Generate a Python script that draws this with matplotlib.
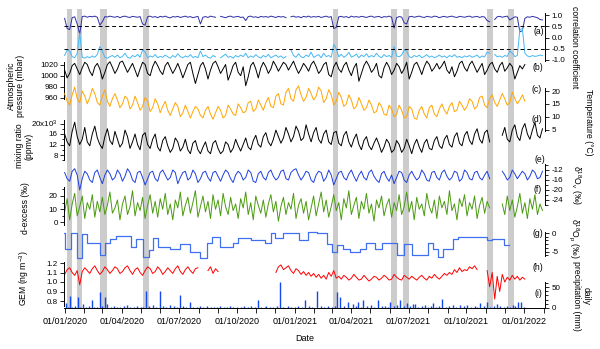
import numpy as np
import matplotlib.pyplot as plt
import matplotlib.dates as mdates
from matplotlib.ticker import FormatStrFormatter, FixedLocator

plt.rcParams['font.family'] = ['Liberation Sans', 'DejaVu Sans']
plt.rcParams['font.size'] = 6
plt.rcParams['axes.unicode_minus'] = False
plt.rcParams['mathtext.fontset'] = 'custom'
plt.rcParams['mathtext.rm'] = 'Liberation Sans'
plt.rcParams['mathtext.it'] = 'Liberation Sans:italic'
plt.rcParams['mathtext.default'] = 'rm'

nan = np.nan

# time base: one value every 4 days from 01/01/2020
t0 = np.datetime64('2020-01-01')
step_days = 4

# (a) correlation coefficients
corr_pos = [0.85, 0.40, 0.35, 0.88, 0.92, 0.60, 0.15, 0.93, 0.95, 0.90,
            0.94, 0.92, 0.95, 0.90, 0.55, 0.70, 0.93, 0.91, 0.95, 0.92,
            0.90, 0.94, 0.88, 0.93, 0.95, 0.91, 0.89, 0.94, 0.92, 0.90,
            0.93, 0.60, 0.55, 0.92, 0.95, 0.90, 0.93, 0.88, 0.94, 0.91,
            0.95, 0.90, 0.87, 0.93, 0.91, 0.94, 0.89, 0.92, 0.95, 0.90,
            0.93, 0.88, 0.91, 0.94, 0.60, 0.90, 0.93, 0.89, 0.95, 0.92,
            0.90, nan, 0.94, 0.91, 0.88, 0.93, 0.95, 0.90, 0.92, 0.94,
            0.89, 0.91, 0.75, 0.93, 0.95, 0.90, 0.92, 0.88, 0.94, 0.91,
            0.93, 0.90, 0.95, 0.92, 0.89, 0.94, 0.91, 0.93, 0.88, nan,
            0.92, 0.95, 0.90, 0.93, 0.88, 0.94, 0.91, 0.95, 0.90, 0.93,
            0.91, 0.94, 0.89, 0.92, 0.95, 0.90, 0.93, 0.40, 0.45, 0.92,
            0.94, 0.90, 0.93, 0.88, 0.95, 0.91, 0.93, 0.90, 0.94, 0.92,
            0.89, 0.93, 0.95, 0.90, 0.92, 0.94, 0.88, 0.93, 0.91, 0.95,
            0.90, 0.42, 0.88, 0.93, 0.91, 0.65, 0.60, 0.92, 0.94, 0.90,
            0.93, 0.95, 0.91, 0.89, 0.94, 0.92, 0.90, 0.95, 0.93, 0.88,
            0.92, 0.94, 0.90, 0.93, 0.95, 0.91, 0.89, 0.94, 0.92, 0.90,
            0.93, 0.95, 0.90, 0.92, 0.94, 0.89, 0.93, 0.91, 0.75, 0.70,
            nan, 0.80, 0.92, 0.94, 0.90, 0.93, 0.95, 0.78, 0.85, 0.92,
            0.90, 0.25, 0.30, 0.85, 0.92, 0.90, 0.94, 0.91, 0.88, 0.80,
            0.78]
corr_neg = [-0.80, -0.55, -0.60, -0.85, -0.90, -0.70, 0.20, -0.88, -0.92, -0.85,
            -0.90, -0.82, -0.88, -0.75, -0.40, -0.60, -0.88, -0.92, -0.85, -0.80,
            -0.88, -0.78, -0.90, -0.84, -0.70, -0.88, -0.92, -0.80, -0.86, -0.75,
            -0.88, -0.55, -0.65, -0.90, -0.82, -0.87, -0.76, -0.90, -0.84, -0.88,
            -0.78, -0.86, -0.92, -0.80, -0.88, -0.72, -0.85, -0.90, -0.82, -0.87,
            -0.76, -0.89, -0.84, -0.90, -0.60, -0.85, -0.78, -0.88, -0.92, -0.80,
            -0.86, nan, -0.90, -0.82, -0.74, -0.88, -0.84, -0.92, -0.80, -0.87,
            -0.78, -0.85, -0.70, -0.90, -0.82, -0.88, -0.76, -0.86, -0.91, -0.80,
            -0.87, -0.75, -0.90, -0.84, -0.78, -0.88, -0.82, -0.92, -0.85, nan,
            -0.55, -0.80, -0.88, -0.72, -0.86, -0.90, -0.78, -0.85, -0.65, -0.88,
            -0.82, -0.76, -0.90, -0.70, -0.85, -0.80, -0.88, -0.30, -0.50, -0.86,
            -0.75, -0.88, -0.80, -0.66, -0.87, -0.82, -0.74, -0.90, -0.78, -0.85,
            -0.72, -0.88, -0.80, -0.86, -0.70, -0.84, -0.90, -0.76, -0.85, -0.80,
            -0.88, -0.40, -0.82, -0.86, -0.78, -0.55, -0.60, -0.85, -0.90, -0.80,
            -0.86, -0.78, -0.90, -0.84, -0.76, -0.88, -0.82, -0.90, -0.85, -0.78,
            -0.87, -0.82, -0.90, -0.80, -0.86, -0.76, -0.88, -0.84, -0.90, -0.82,
            -0.86, -0.80, -0.88, -0.84, -0.78, -0.90, -0.82, -0.86, -0.65, -0.70,
            nan, -0.75, -0.86, -0.82, -0.88, -0.80, -0.84, -0.60, -0.70, -0.85,
            -0.80, 0.35, 0.40, -0.70, -0.82, -0.86, -0.80, -0.84, -0.82, -0.78,
            -0.80]

# (b) atmospheric pressure (mbar)
pressure = [1010, 996, 1004, 1018, 1022, 1012, 1002, 1014, 1024, 1020,
            1008, 1000, 1016, 1022, 1012, 994, 1006, 1020, 1025, 1015,
            1004, 1012, 1024, 1026, 1016, 1006, 1014, 1022, 1010, 998,
            1012, 1024, 1020, 1004, 1000, 1016, 1026, 1018, 1008, 1002,
            1018, 1024, 1014, 1004, 1012, 1022, 1010, 996, 1008, 1020,
            1024, 1004, 986, 1002, 1018, 1024, 1012, 994, 1010, 1022,
            1026, 1016, 1004, 1012, 1020, 992, 1004, 1018, 1024, 1006,
            1000, 1016, 982, 998, 1018, 1024, 1012, 996, 1014, 1024,
            1016, 1004, 1012, 1026, 1018, 1008, 1016, 1024, 1020, 1010,
            1018, 1026, 1014, 1004, 1012, 1022, 1016, 1008, 1020, 1026,
            1016, 1004, 1010, 1020, 1024, 1002, 998, 1016, 1024, 1012,
            1006, 1018, 1024, 1010, 1000, 1014, 1022, 990, 1004, 1018,
            1026, 1018, 1006, 1012, 1022, 1000, 996, 1014, 1024, 1016,
            1002, 1010, 1022, 1016, 1004, 1012, 1024, 994, 1006, 1020,
            1024, 1014, 1002, 1016, 1026, 1020, 1008, 1014, 1022, 1012,
            1018, 1026, 1010, 1004, 1016, 998, 1008, 1022, 1026, 1014,
            1008, 1020, 1026, 1016, 1006, 1014, 1022, 1002, 1010, 1020,
            1024, 1012, 1006, 1018, 1024, 1008, 1014, 1022, 1016, 994,
            1006, 1018, 1012, 1020]

# (c) temperature (degC)
temperature = [19, 16, 14.5, 18.5, 21.5, 17, 15.5, 20, 18, 15,
               17.5, 21, 19, 15.5, 14.5, 18, 20.5, 16, 14, 17,
               19, 16.5, 13.5, 15, 18, 17, 13, 14.5, 18, 15.5,
               12.5, 14, 17.5, 16, 12, 13.5, 17, 15, 11.5, 14,
               16, 12.5, 10.5, 13, 15.5, 14, 10, 11.5, 14.5, 12,
               9.5, 12, 14, 13, 10.5, 9.5, 12.5, 14, 11, 9,
               11.5, 14, 12.5, 9.5, 10.5, 14.5, 13, 11, 10.5, 15,
               13.5, 11.5, 12, 15.5, 16, 12, 13, 16.5, 14.5, 12.5,
               15.5, 17.5, 14, 13.5, 18, 19, 15, 14.5, 19.5, 21,
               17, 16, 20.5, 22, 18.5, 16, 17.5, 21, 19, 16.5,
               18, 21.5, 20, 15.5, 17, 20.5, 18.5, 14.5, 16, 19.5,
               17.5, 14, 15, 18.5, 16.5, 13, 14, 17.5, 15, 12.5,
               13.5, 16.5, 14.5, 11.5, 12, 15.5, 14, 11, 10.5, 14.5,
               13, 10, 11, 14.5, 12.5, 9.5, 10, 14, 13, 9.5,
               9, 12.5, 14, 11, 9.5, 13.5, 14.5, 11, 10, 13,
               15, 12.5, 11, 14, 15.5, 12, 12.5, 16, 14.5, 12.5,
               14, 17, 16, 13, 14, 17.5, 18, 14.5, 13.5, 17,
               18.5, 15.5, 14, 16.5, 19, 17, 14.5, 15.5, 19.5, 17,
               15, 16.5, 18.5, 16]

# (d) water vapour mixing ratio (x10^3 ppmv)
mixing = [16, 13, 11.5, 17, 20.5, 15, 12, 14, 18.5, 13,
          11.5, 16, 19, 14.5, 12, 10.5, 15, 18, 13.5, 12,
          17, 14, 11, 12.5, 17.5, 15, 10.5, 13, 16, 12,
          10, 15.5, 16.5, 12, 10.5, 14, 16, 11, 9.5, 13.5,
          15, 11.5, 9, 10.5, 14.5, 13, 9.5, 11, 14, 10,
          8.5, 12.5, 13.5, 10, 8.5, 11, 13, 9.5, 8.5, 12.5,
          13.5, 10.5, 8.5, 9.5, 13, 12, 9, 10.5, 14, 11.5,
          9.5, 12, 14.5, 11, 10, 13.5, 15.5, 12, 11, 15,
          16.5, 13, 11.5, 14, 17.5, 15, 12.5, 14.5, 18.5, 16,
          13, 15, 19, 17, 13.5, 14.5, 19.5, 16, 13, 16.5,
          18.5, 14, 12.5, 16, 17.5, 13, 12, 16.5, 17, 12.5,
          11.5, 15.5, 17, 13, 11, 14, 16, 12, 10, 13.5,
          15, 11.5, 10, 12.5, 14.5, 12, 9, 11, 14, 12.5,
          9, 10, 13.5, 12, 9, 10.5, 14, 11.5, 8.5, 12,
          14, 11, 9, 12.5, 14, 10.5, 10, 13.5, 15, 11.5,
          10.5, 14, 15.5, 12, 11, 15, 16.5, 12.5, 11.5, 15.5,
          17, 13.5, 12, 16, 18, 14, 12.5, 16.5, 17.5, 13,
          nan, nan, nan, nan, 15.5, 18.5, 14, 13, 17.5, 19.5,
          15, 13.5, 18, 20, 16, 14, 17.5, 20.5, 15.5, 14.5,
          18]

# (e) vapour d18O (permil)
d18o_v = [-13, -15.5, -16.5, -12.5, -11.5, -14, -20, -15.5, -12.5, -13.5,
          -16, -17, -13, -12, -15, -17.5, -14, -12, -13.5, -16,
          -15, -12, -13.5, -16.5, -14.5, -11.5, -13, -16, -17, -13,
          -12.5, -15, -18, -15.5, -13, -12.5, -15.5, -16.5, -13, -12,
          -14, -16, -15, -12, -13, -17.5, -15, -13, -12.5, -16,
          -15, -12, -13.5, -17, -15.5, -13, -12.5, -15, -16.5, -13,
          -12.5, -14.5, -16.5, -14, -12, -13, -15.5, -17, -14, -12.5,
          -13.5, -16, -15, -12, -13, -16.5, -17, -13.5, -12.5, -15,
          -16, -13, -12, -14.5, -16, -15, -12.5, -12, -15.5, -16,
          -13, -12, -11.5, -14, -16, -14.5, -12.5, -13, -16, -17,
          -14, -12.5, -13, -16.5, -15, -12, -14, -18, -15.5, -13,
          -12.5, -15, -16, -13.5, -12, -14.5, -16.5, -14, -12.5, -15,
          -16, -13, -12, -14.5, -16, -17, -13.5, -12.5, -15, -16.5,
          -14, -17.5, -15, -12.5, -13, -16, -17, -14, -12.5, -14.5,
          -16, -15, -12, -13.5, -16, -16.5, -13, -12.5, -15, -16,
          -13, -12, -14.5, -16, -15, -12.5, -13, -16.5, -15.5, -12,
          -13, -15.5, -16, -13, -12.5, -15, -16, -14, -12.5, -15.5,
          nan, nan, nan, nan, -12.5, -14, -16, -15, -12, -13.5,
          -15.5, -14, -12.5, -13.5, -16, -14.5, -12, -13, -15.5, -15,
          -12.5]

# (f) d-excess (permil)
d_excess = [8, 18, 2, 14, 22, 5, 12, 20, 3, 15,
            10, 21, 4, 16, 8, 19, 6, 13, 23, 7,
            11, 17, 2, 14, 20, 6, 12, 24, 5, 15,
            9, 19, 3, 13, 21, 7, 16, 4, 18, 10,
            22, 6, 14, 2, 17, 11, 23, 5, 13, 19,
            7, 15, 24, 4, 12, 20, 8, 16, 3, 21,
            10, 17, 5, 22, 12, 6, 19, 9, 14, 3,
            18, 11, 23, 6, 15, 2, 20, 13, 7, 17,
            4, 14, 21, 8, 16, 1, 12, 19, 6, 15,
            10, 22, 3, 13, 18, 7, 16, 2, 11, 20,
            5, 14, 23, 8, 17, 4, 12, 21, 9, 15,
            2, 18, 11, 24, 6, 13, 19, 3, 16, 10,
            22, 7, 14, 1, 17, 11, 20, 5, 13, 18,
            4, 15, 9, 21, 6, 12, 23, 8, 16, 2,
            19, 10, 14, 5, 22, 12, 7, 17, 3, 20,
            11, 16, 6, 24, 9, 14, 2, 18, 12, 21,
            5, 15, 10, 20, 3, 13, 19, 7, 16, 11,
            nan, nan, nan, nan, 14, 6, 20, 9, 17, 4,
            12, 22, 7, 15, 3, 18, 10, 21, 6, 14,
            9]

# (g) precipitation d18O (permil), piecewise constant between edges (days)
d18o_p_edges = [-1, 1, 10, 20, 28, 36, 56, 65, 72, 82,
                106, 114, 125, 134, 141, 149, 167, 183, 199, 215,
                226, 234, 247, 268, 276, 297, 310, 318, 329, 334,
                348, 372, 387, 401, 417, 425, 433, 443, 454, 470,
                480, 494, 504, 528, 539, 552, 578, 586, 594, 602,
                618, 626, 645, 671, 679, 698, 706]
d18o_p = [0, -4.3, 0, -6.7, -0.3, -2.6, -6, -2.6, -1.6, -0.9,
          -3.9, -1.6, -6.4, -4.6, -1.3, -3.9, -4.3, -3.0, -5, -6.8,
          -2.6, -1.2, -3.7, -2.6, -1.4, -2, -1.8, -2.6, 0, -1.4,
          0, -1.9, 0.4, 0, -2.9, -5, -3.2, -4.4, -5, -4.2,
          -2.6, -4.4, -2.6, -5.9, -2.9, -5.9, -2.6, -4.4, -6.5, -4.4,
          -1.5, -1.2, -1.1, -1.9, -1.5, -3.2]

# (h) gaseous elemental mercury (ng m-3)
gem = [1.08, 1.13, 1.15, 1.10, 1.07, 1.12, 0.97, 1.11, 1.15, 1.12,
       1.09, 1.14, 1.17, 1.12, 1.08, 1.11, 1.16, 1.13, 1.09, 1.12,
       1.16, 1.14, 1.09, 1.11, 1.15, 1.17, 1.12, 1.08, 1.13, 1.15,
       1.10, 1.07, 1.12, 1.16, 1.14, 1.09, 1.11, 1.16, 1.13, 1.08,
       1.11, 1.15, 1.12, 1.09, 1.14, 1.17, 1.11, 1.08, 1.13, 1.16,
       1.12, 1.09, 1.14, 1.15, nan, nan, nan, 1.12, 1.16, 1.09,
       1.14, 1.11, nan, nan, nan, nan, nan, nan, nan, nan,
       nan, nan, nan, nan, nan, nan, nan, nan, nan, nan,
       nan, nan, nan, nan, 1.10, 1.16, 1.18, 1.13, 1.15, 1.17,
       1.12, 1.09, 1.14, 1.12, 1.08, 1.11, 1.07, 1.10, 1.06, 1.09,
       1.05, 1.08, 1.04, 1.07, 1.03, 1.10, 1.06, 1.12, 1.04, 1.06,
       1.03, 1.07, 1.05, 1.02, 1.04, 1.08, 1.05, 1.02, 1.03, 1.07,
       1.04, 1.01, 1.03, 1.06, 1.05, 1.02, 1.04, 1.07, 1.05, 1.02,
       1.03, 1.08, 1.05, 1.03, 1.02, 1.07, 1.05, 1.03, 1.06, 1.04,
       1.02, 1.05, 1.07, 1.04, 1.02, 1.06, 1.04, 1.08, 1.05, 1.03,
       1.06, 1.09, 1.07, 1.10, 1.08, 1.13, 1.10, 1.15, 1.11, 1.13,
       1.12, 1.16, 1.14, 1.17, 1.13, nan, nan, nan, 1.12, 0.95,
       1.10, 0.82, 1.06, 0.90, 1.08, 1.00, 1.05, 1.02, 1.07, 1.03,
       1.06, 1.02, 1.05, 1.03]

# (i) daily precipitation (day after 01/01/2020, mm)
precip_day = [2, 5, 8, 12, 16, 21, 25, 29, 34, 38,
              43, 47, 51, 56, 60, 64, 68, 73, 78, 83,
              88, 94, 99, 104, 110, 115, 121, 125, 129, 134,
              140, 145, 151, 156, 162, 168, 174, 179, 183, 188,
              193, 199, 204, 210, 215, 220, 226, 232, 238, 243,
              247, 253, 258, 263, 268, 274, 280, 286, 291, 297,
              302, 307, 313, 318, 321, 327, 332, 337, 342, 348,
              355, 360, 366, 371, 377, 382, 388, 394, 401, 407,
              413, 419, 425, 430, 433, 438, 444, 451, 459, 463,
              467, 471, 475, 481, 487, 492, 498, 504, 509, 514,
              518, 524, 529, 533, 539, 545, 550, 554, 557, 562,
              568, 573, 578, 582, 586, 591, 596, 600, 606, 612,
              618, 623, 629, 635, 640, 646, 652, 656, 661, 667,
              672, 677, 683, 688, 693, 699, 704, 709, 713, 717,
              721, 726, 730]
precip_mm = [12, 3, 28, 2, 4, 26, 3, 10, 2, 5,
             19, 3, 2, 38, 4, 26, 10, 2, 5, 3,
             2, 4, 6, 3, 2, 5, 3, 2, 40, 4,
             8, 3, 40, 5, 3, 6, 4, 3, 31, 4,
             3, 14, 3, 2, 5, 3, 5, 2, 3, 2,
             4, 3, 2, 4, 2, 3, 2, 5, 3, 4,
             3, 19, 3, 2, 5, 3, 2, 4, 62, 3,
             5, 3, 2, 4, 3, 19, 4, 3, 40, 4,
             3, 5, 2, 4, 38, 26, 5, 14, 10, 4,
             14, 3, 19, 4, 6, 3, 19, 4, 5, 3,
             14, 4, 6, 19, 5, 12, 4, 10, 10, 3,
             4, 8, 3, 4, 12, 3, 5, 21, 3, 4,
             6, 3, 8, 4, 6, 3, 4, 3, 12, 4,
             15, 3, 5, 10, 4, 3, 5, 3, 8, 4,
             15, 15, 3]

# grey shaded events (start day, end day)
events = [(3, 11), (19, 28), (57, 67), (124, 134), (427, 435),
          (519, 529), (538, 548), (672, 682), (705, 715)]


def days(d):
    return t0 + np.array(d, dtype='timedelta64[D]')


def grid(vals):
    return t0 + np.arange(len(vals)) * np.timedelta64(step_days, 'D')


W, H = 600, 349
X0, X1 = 64, 545
fig = plt.figure(figsize=(W / 100, H / 100), dpi=100)


def box(top, bottom):
    return [X0 / W, 1 - bottom / H, (X1 - X0) / W, (bottom - top) / H]


base = fig.add_axes(box(9, 308))
base.set_xlim(np.datetime64('2019-12-31'), np.datetime64('2022-02-03'))
base.set_ylim(0, 1)
for s in ['left', 'right', 'top']:
    base.spines[s].set_visible(False)
base.spines['bottom'].set_linewidth(0.7)
base.set_yticks([])
base.patch.set_visible(False)
for a, b in events:
    base.axvspan(days(a), days(b), color='#cccccc', lw=0)
base.xaxis.set_major_locator(mdates.MonthLocator(bymonth=[1, 4, 7, 10]))
base.xaxis.set_minor_locator(mdates.MonthLocator())
base.xaxis.set_major_formatter(mdates.DateFormatter('%d/%m/%Y'))
base.tick_params(axis='x', which='both', length=3.5, width=0.6, labelsize=6.5, pad=3)
base.set_xlabel('Date', fontsize=6.5, labelpad=6)


def panel(v1, p1, v2, p2, lo, hi, side, bounds):
    k = (p2 - p1) / (v2 - v1)
    top = p1 + (hi - v1) * k
    bot = p1 + (lo - v1) * k
    ax = fig.add_axes(box(top, bot), sharex=base)
    ax.set_ylim(lo, hi)
    ax.patch.set_visible(False)
    for s in ['left', 'right', 'top', 'bottom']:
        ax.spines[s].set_visible(s == side)
    ax.spines[side].set_bounds(*bounds)
    ax.spines[side].set_linewidth(0.7)
    ax.tick_params(axis='x', which='both', bottom=False, labelbottom=False)
    if side == 'right':
        ax.yaxis.tick_right()
    ax.tick_params(axis='y', which='major', length=3, width=0.6, labelsize=5.8, pad=1.5)
    ax.tick_params(axis='y', which='minor', length=1.8, width=0.6)
    return ax


lw = 0.7

# (a)
ax_a = panel(1, 15, -1, 60, -1.1, 1.1, 'right', (-1.05, 1.08))
ax_a.plot(grid(corr_pos), corr_pos, color='#2e2ea8', lw=lw)
ax_a.plot(grid(corr_neg), corr_neg, color='#45b8f5', lw=lw)
for v in (0.5, -0.5):
    ax_a.axhline(v, color='black', lw=0.7, dashes=(4, 3))
ax_a.set_yticks([-1, -0.5, 0, 0.5, 1])
ax_a.yaxis.set_major_formatter(FormatStrFormatter('%.1f'))

# (b)
ax_b = panel(1020, 64.5, 960, 98, 950, 1035, 'left', (958, 1025))
ax_b.plot(grid(pressure), pressure, color='black', lw=lw)
ax_b.set_yticks([960, 980, 1000, 1020])

# (c)
ax_c = panel(20, 91, 5, 129.5, 3, 25, 'right', (4.3, 21.2))
ax_c.plot(grid(temperature), temperature, color='#ffa500', lw=lw)
ax_c.set_yticks([5, 10, 15, 20])

# (d)
ax_d = panel(20, 123.5, 8, 155, 5, 23, 'left', (6, 21.3))
ax_d.plot(grid(mixing), mixing, color='black', lw=lw)
ax_d.set_yticks([8, 12, 16, 20])
ax_d.set_yticklabels(['8', '12', '16', '20x10$^{3}$'])
ax_d.yaxis.set_minor_locator(FixedLocator([6, 10, 14, 18]))

# (e)
ax_e = panel(-12, 170, -24, 200, -28, -8, 'right', (-26, -9.5))
ax_e.plot(grid(d18o_v), d18o_v, color='#1d3fe0', lw=lw)
ax_e.set_yticks([-24, -20, -16, -12])
ax_e.yaxis.set_minor_locator(FixedLocator([-26, -22, -18, -14, -10]))

# (f)
ax_f = panel(20, 196, 0, 222.5, -6, 30, 'left', (-2, 27))
ax_f.plot(grid(d_excess), d_excess, color='#4a9a10', lw=lw)
ax_f.set_yticks([0, 10, 20])
ax_f.yaxis.set_minor_locator(FixedLocator([5, 15, 25]))

# (g)
ax_g = panel(0, 233, -5, 251.5, -8, 1, 'right', (-6.2, 0.3))
ax_g.step(days(d18o_p_edges), d18o_p + [d18o_p[-1]], where='post', color='#4070f0', lw=0.9)
ax_g.set_yticks([-5, 0])
ax_g.yaxis.set_minor_locator(FixedLocator([-6, -4, -3, -2, -1]))

# (h)
ax_h = panel(1.2, 263, 0.8, 301, 0.7, 1.3, 'left', (0.745, 1.21))
ax_h.plot(grid(gem), gem, color='#ff0000', lw=lw)
ax_h.set_yticks([0.8, 0.9, 1.0, 1.1, 1.2])
ax_h.yaxis.set_major_formatter(FormatStrFormatter('%.1f'))

# (i)
ax_i = panel(50, 287, 0, 308, 0, 75, 'right', (0, 62))
ax_i.vlines(days(precip_day), 0, precip_mm, color='#1448f0', lw=1.0)
ax_i.set_yticks([0, 50])
ax_i.yaxis.set_minor_locator(FixedLocator([10, 20, 30, 40, 60]))


def ftxt(x, y, s, rot=0, size=6.2, **kw):
    fig.text(x / W, 1 - y / H, s, rotation=rot, ha='center', va='center',
             multialignment='center', fontsize=size, linespacing=1.1, **kw)


# axis titles
ftxt(16, 86, 'Atmospheric\npressure (mbar)', 90)
ftxt(24, 146, 'mixing ratio\n(ppmv)', 90)
ftxt(26, 208, 'd-excess (‰)', 90)
ftxt(24, 278, 'GEM (ng m$^{-3}$)', 90)
ftxt(575, 47, 'correlation coefficient', -90)
ftxt(588, 122, 'Temperature (°C)', -90)
ftxt(576, 185, 'δ$^{18}$O$_{v}$ (‰)', -90)
ftxt(574, 238, 'δ$^{18}$O$_{p}$ (‰)', -90)
ftxt(581, 296, 'daily\nprecipitation (mm)', -90)

# panel letters
for lab, x, y in [('(a)', 539, 32), ('(b)', 538, 68), ('(c)', 537, 90),
                  ('(d)', 537, 120), ('(e)', 540, 160), ('(f)', 538, 190),
                  ('(g)', 538, 234), ('(h)', 538, 268), ('(i)', 538, 293)]:
    ftxt(x, y, lab, size=6.2)

fig.savefig('out.png', dpi=100)
